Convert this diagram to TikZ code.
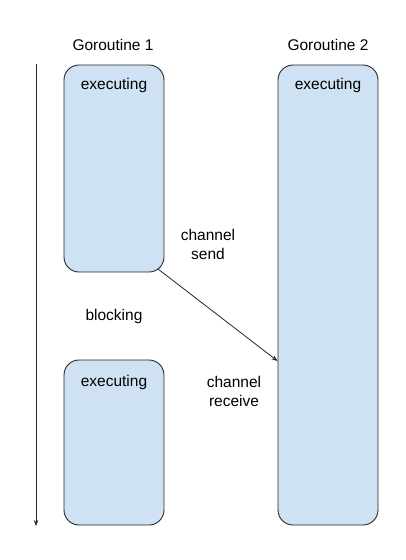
\documentclass[tikz,border=0pt]{standalone}
\usepackage{fontspec}
\setmainfont{Liberation Sans}
\usetikzlibrary{arrows.meta}
\definecolor{boxblue}{HTML}{CFE2F3}
\begin{document}
\begin{tikzpicture}[x=1pt,y=-1pt,
  gbox/.style={draw=black!85,fill=boxblue,rounded corners=15pt,line width=0.9pt,inner sep=0pt,minimum width=100pt},
  lbl/.style={font=\fontsize{15.5}{19}\selectfont,align=center,inner sep=0pt},
  conn/.style={draw=black!85,line width=0.8pt,-{Stealth[length=6pt,width=4.5pt]}}]
\useasboundingbox (0,0) rectangle (406,560);
% boxes
\node[gbox,minimum height=207pt] (b1) at (114,168.5) {};
\node[gbox,minimum height=165pt] (b2) at (114,442.5) {};
\node[gbox,minimum height=460pt] (b3) at (328,295) {};
% labels
\node[lbl] (g1) at (113,45) {Goroutine 1};
\node[lbl] (g2) at (328,45) {Goroutine 2};
\node[lbl] (e1) at (114,85) {executing};
\node[lbl] (e2) at (114,382) {executing};
\node[lbl] (e3) at (328,85) {executing};
\node[lbl] (bl) at (114,316) {blocking};
\node[lbl] (cs) at (208,244) {channel\\send};
\node[lbl] (cr) at (234,391) {channel\\receive};
% timeline
\coordinate (t0) at (36,64);
\coordinate (t1) at (36,526);
\draw[conn] (t0) -- (t1);
% send arrow
\coordinate (s0) at (158,269);
\draw[conn] (s0) -- (b3.west |- 0,361);
\end{tikzpicture}
\end{document}
